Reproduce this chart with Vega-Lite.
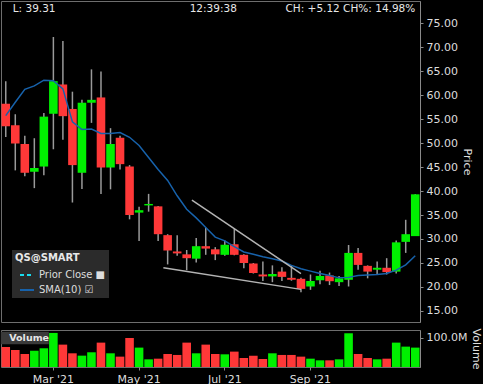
{
  "$schema": "https://vega.github.io/schema/vega-lite/v6.json",
  "background": "#000000",
  "padding": 0,
  "spacing": 4,
  "config": {
    "font": "DejaVu Sans",
    "view": {"stroke": "#6e6e6e", "strokeWidth": 1},
    "axis": {"grid": false, "domainColor": "#8a8a8a", "tickColor": "#8a8a8a", "labelColor": "#dddddd", "titleColor": "#dddddd", "labelFont": "DejaVu Sans", "titleFont": "DejaVu Sans", "labelFontSize": 11, "titleFontSize": 11, "titleFontWeight": "normal", "tickSize": 3, "labelPadding": 3, "labelOverlap": false},
    "axisY": {"labelOverlap": false},
    "axisRight": {"labelOverlap": false},
    "axisQuantitative": {"labelOverlap": false}
  },
  "datasets": {
    "weekly": [
      {"date": "2021-01-25", "open": 58.2, "high": 62.9, "low": 51.25, "close": 53.5, "vol": 69000000, "sma": 55.7, "dir": "down"},
      {"date": "2021-02-01", "open": 53.7, "high": 56.0, "low": 44.3, "close": 49.9, "vol": 58700000, "sma": 58.5, "dir": "down"},
      {"date": "2021-02-08", "open": 49.8, "high": 51.5, "low": 43.1, "close": 43.8, "vol": 44900000, "sma": 61.2, "dir": "down"},
      {"date": "2021-02-15", "open": 44.0, "high": 51.0, "low": 40.6, "close": 44.8, "vol": 56400000, "sma": 61.9, "dir": "up"},
      {"date": "2021-02-22", "open": 45.1, "high": 56.25, "low": 43.3, "close": 55.5, "vol": 64500000, "sma": 63.1, "dir": "up"},
      {"date": "2021-03-01", "open": 56.1, "high": 72.1, "low": 48.7, "close": 62.9, "vol": 117400000, "sma": 63.0, "dir": "up"},
      {"date": "2021-03-08", "open": 62.2, "high": 71.25, "low": 50.7, "close": 55.6, "vol": 77100000, "sma": 61.3, "dir": "down"},
      {"date": "2021-03-15", "open": 57.1, "high": 60.7, "low": 37.6, "close": 45.4, "vol": 47200000, "sma": 54.4, "dir": "down"},
      {"date": "2021-03-22", "open": 43.8, "high": 59.0, "low": 40.4, "close": 58.4, "vol": 39100000, "sma": 52.8, "dir": "up"},
      {"date": "2021-03-29", "open": 58.4, "high": 65.35, "low": 54.2, "close": 59.0, "vol": 50700000, "sma": 52.9, "dir": "up"},
      {"date": "2021-04-05", "open": 59.5, "high": 64.9, "low": 39.4, "close": 44.9, "vol": 84000000, "sma": 52.0, "dir": "down"},
      {"date": "2021-04-12", "open": 44.9, "high": 53.1, "low": 40.35, "close": 49.8, "vol": 47200000, "sma": 52.0, "dir": "up"},
      {"date": "2021-04-19", "open": 51.1, "high": 51.5, "low": 44.5, "close": 45.6, "vol": 35700000, "sma": 52.2, "dir": "down"},
      {"date": "2021-04-26", "open": 45.1, "high": 45.4, "low": 34.1, "close": 35.0, "vol": 100100000, "sma": 51.2, "dir": "down"},
      {"date": "2021-05-03", "open": 35.5, "high": 36.7, "low": 29.6, "close": 36.0, "vol": 66800000, "sma": 49.5, "dir": "up"},
      {"date": "2021-05-10", "open": 37.0, "high": 39.4, "low": 35.7, "close": 37.3, "vol": 26400000, "sma": 47.0, "dir": "up"},
      {"date": "2021-05-17", "open": 36.8, "high": 36.9, "low": 29.6, "close": 31.0, "vol": 28700000, "sma": 44.5, "dir": "down"},
      {"date": "2021-05-24", "open": 30.8, "high": 31.0, "low": 24.7, "close": 27.6, "vol": 44900000, "sma": 42.2, "dir": "down"},
      {"date": "2021-05-31", "open": 27.4, "high": 30.8, "low": 26.5, "close": 27.0, "vol": 41500000, "sma": 39.0, "dir": "down"},
      {"date": "2021-06-07", "open": 26.8, "high": 27.7, "low": 23.5, "close": 26.0, "vol": 84000000, "sma": 36.2, "dir": "down"},
      {"date": "2021-06-14", "open": 25.9, "high": 30.2, "low": 25.1, "close": 28.5, "vol": 47200000, "sma": 34.4, "dir": "up"},
      {"date": "2021-06-21", "open": 28.5, "high": 32.35, "low": 26.7, "close": 28.0, "vol": 77100000, "sma": 32.4, "dir": "down"},
      {"date": "2021-06-28", "open": 27.85, "high": 28.3, "low": 25.6, "close": 26.8, "vol": 44900000, "sma": 30.4, "dir": "down"},
      {"date": "2021-07-05", "open": 26.7, "high": 29.7, "low": 26.5, "close": 28.8, "vol": 43700000, "sma": 29.6, "dir": "up"},
      {"date": "2021-07-12", "open": 28.9, "high": 32.1, "low": 26.6, "close": 26.7, "vol": 53000000, "sma": 28.4, "dir": "down"},
      {"date": "2021-07-19", "open": 26.7, "high": 26.8, "low": 23.9, "close": 25.0, "vol": 31100000, "sma": 27.3, "dir": "down"},
      {"date": "2021-07-26", "open": 24.9, "high": 25.0, "low": 22.8, "close": 22.9, "vol": 39100000, "sma": 26.8, "dir": "down"},
      {"date": "2021-08-02", "open": 22.6, "high": 25.3, "low": 21.25, "close": 22.2, "vol": 27600000, "sma": 26.3, "dir": "down"},
      {"date": "2021-08-09", "open": 22.2, "high": 24.5, "low": 21.0, "close": 22.7, "vol": 47200000, "sma": 25.9, "dir": "up"},
      {"date": "2021-08-16", "open": 23.2, "high": 24.1, "low": 21.25, "close": 22.1, "vol": 41500000, "sma": 25.4, "dir": "down"},
      {"date": "2021-08-23", "open": 21.9, "high": 24.4, "low": 21.3, "close": 21.5, "vol": 41500000, "sma": 24.5, "dir": "down"},
      {"date": "2021-08-30", "open": 21.7, "high": 21.9, "low": 18.9, "close": 19.6, "vol": 35700000, "sma": 23.8, "dir": "down"},
      {"date": "2021-09-06", "open": 20.1, "high": 22.6, "low": 19.4, "close": 21.25, "vol": 28700000, "sma": 23.3, "dir": "up"},
      {"date": "2021-09-13", "open": 21.4, "high": 23.4, "low": 20.55, "close": 22.3, "vol": 23000000, "sma": 22.8, "dir": "up"},
      {"date": "2021-09-20", "open": 22.4, "high": 23.0, "low": 20.4, "close": 21.2, "vol": 23000000, "sma": 22.4, "dir": "down"},
      {"date": "2021-09-27", "open": 21.0, "high": 22.3, "low": 20.2, "close": 21.8, "vol": 26400000, "sma": 21.9, "dir": "up"},
      {"date": "2021-10-04", "open": 21.5, "high": 28.75, "low": 20.1, "close": 27.1, "vol": 116200000, "sma": 22.0, "dir": "up"},
      {"date": "2021-10-11", "open": 27.1, "high": 28.1, "low": 23.6, "close": 24.6, "vol": 44900000, "sma": 22.4, "dir": "down"},
      {"date": "2021-10-18", "open": 24.4, "high": 24.5, "low": 21.8, "close": 23.2, "vol": 31100000, "sma": 22.5, "dir": "down"},
      {"date": "2021-10-25", "open": 23.6, "high": 25.3, "low": 22.6, "close": 24.0, "vol": 26400000, "sma": 22.6, "dir": "up"},
      {"date": "2021-11-01", "open": 24.0, "high": 26.0, "low": 22.6, "close": 23.1, "vol": 28700000, "sma": 22.8, "dir": "down"},
      {"date": "2021-11-08", "open": 23.2, "high": 29.7, "low": 22.8, "close": 29.3, "vol": 84000000, "sma": 23.5, "dir": "up"},
      {"date": "2021-11-15", "open": 29.4, "high": 34.0, "low": 27.1, "close": 31.0, "vol": 70200000, "sma": 24.6, "dir": "up"},
      {"date": "2021-11-22", "open": 30.6, "high": 39.31, "low": 30.6, "close": 39.31, "vol": 66800000, "sma": 26.5, "dir": "up"}
    ]
  },
  "vconcat": [
    {
      "width": 419,
      "height": 321,
      "encoding": {
        "y": {"type": "quantitative", "scale": {"domain": [12.7, 79.6], "nice": false, "zero": false},
          "axis": {"orient": "right", "values": [15, 20, 25, 30, 35, 40, 45, 50, 55, 60, 65, 70, 75], "format": ".2f", "title": "Price", "titlePadding": 4, "labelOverlap": false, "labelBound": false}}
      },
      "layer": [
        {
          "data": {"name": "weekly"},
          "mark": {"type": "rule", "color": "#9a9a9a", "strokeWidth": 1.5},
          "encoding": {
            "x": {"field": "date", "type": "ordinal", "axis": null, "scale": {"paddingInner": 0.1, "paddingOuter": 0.05}},
            "y": {"field": "low", "type": "quantitative"},
            "y2": {"field": "high"}
          }
        },
        {
          "data": {"name": "weekly"},
          "mark": {"type": "bar"},
          "encoding": {
            "x": {"field": "date", "type": "ordinal"},
            "y": {"field": "open", "type": "quantitative"},
            "y2": {"field": "close"},
            "fill": {"field": "dir", "type": "nominal", "scale": {"domain": ["up", "down"], "range": ["#00f000", "#ff3838"]}, "legend": null}
          }
        },
        {
          "data": {"name": "weekly"},
          "mark": {"type": "line", "strokeWidth": 1.5},
          "encoding": {
            "x": {"field": "date", "type": "ordinal"},
            "y": {"field": "sma", "type": "quantitative"},
            "stroke": {"datum": "SMA(10)", "type": "nominal",
              "scale": {"domain": ["Prior Close", "SMA(10)"], "range": ["#18dcef", "#1762ab"]},
              "legend": {"title": "QS@SMART", "orient": "none", "legendX": 11, "legendY": 249, "direction": "vertical",
                "fillColor": "#2b2b2b", "padding": 3, "titleColor": "#e8e8e8", "titleFont": "DejaVu Sans", "titleFontSize": 10, "titleFontWeight": "bold", "titlePadding": 4,
                "labelColor": "#dddddd", "labelFont": "DejaVu Sans", "labelFontSize": 10, "labelOffset": 4, "symbolType": "stroke", "symbolSize": 196, "symbolStrokeWidth": 2, "symbolOffset": 4, "rowPadding": 2,
                "labelExpr": "datum.label + (datum.label === 'Prior Close' ? ' ■' : ' ☑')",
                "encode": {"symbols": {"update": {
                  "strokeDash": {"signal": "datum.value === 'Prior Close' ? [4, 3] : [1, 0]"},
                  "stroke": {"signal": "datum.value === 'Prior Close' ? '#18dcef' : '#2a90ee'"}
                }}}}
            }
          }
        },
        {
          "data": {"values": [
            {"start": "2021-06-14", "end": "2021-08-30", "p1": 38.1, "p2": 22.8},
            {"start": "2021-05-24", "end": "2021-08-30", "p1": 24.0, "p2": 19.5}
          ]},
          "mark": {"type": "rule", "color": "#b4b4b4", "strokeWidth": 1.5},
          "encoding": {
            "x": {"field": "start", "type": "ordinal", "bandPosition": 0},
            "x2": {"field": "end"},
            "y": {"field": "p1", "type": "quantitative"},
            "y2": {"field": "p2"}
          }
        },
        {
          "data": {"values": [{}]},
          "mark": {"type": "text", "align": "left", "dx": 7, "color": "#e8e8e8", "fontSize": 10.5},
          "encoding": {"x": {"datum": "2021-01-25", "type": "ordinal"}, "y": {"datum": 78.0, "type": "quantitative"}, "text": {"value": "L: 39.31"}}
        },
        {
          "data": {"values": [{}]},
          "mark": {"type": "text", "align": "center", "dx": -2, "color": "#e8e8e8", "fontSize": 10.5},
          "encoding": {"x": {"datum": "2021-06-28", "type": "ordinal"}, "y": {"datum": 78.0, "type": "quantitative"}, "text": {"value": "12:39:38"}}
        },
        {
          "data": {"values": [{}]},
          "mark": {"type": "text", "align": "right", "dx": 0, "color": "#e8e8e8", "fontSize": 10.5},
          "encoding": {"x": {"datum": "2021-11-22", "type": "ordinal"}, "y": {"datum": 78.0, "type": "quantitative"}, "text": {"value": "CH: +5.12 CH%: 14.98%"}}
        }
      ]
    },
    {
      "width": 419,
      "height": 37,
      "layer": [
        {
          "data": {"values": [{}]},
          "mark": {"type": "bar", "width": 48, "color": "#3a3a3a"},
          "encoding": {"x": {"datum": "2021-02-08", "type": "ordinal"}, "y": {"datum": 121700000, "type": "quantitative"}, "y2": {"datum": 78000000}}
        },
        {
          "data": {"name": "weekly"},
          "mark": {"type": "bar"},
          "encoding": {
            "x": {"field": "date", "type": "ordinal", "scale": {"paddingInner": 0.1, "paddingOuter": 0.05},
              "axis": {"orient": "bottom", "values": ["2021-03-01", "2021-05-03", "2021-07-05", "2021-09-06"], "labelExpr": "utcFormat(toDate(datum.value), \"%b '%y\")", "domain": false, "title": null, "labelPadding": 3, "labelAngle": 0, "labelAlign": "center", "labelBaseline": "top"}},
            "y": {"field": "vol", "type": "quantitative", "scale": {"domain": [0, 127500000], "nice": false},
              "axis": {"orient": "right", "values": [100000000], "format": ".4s", "title": "Volume", "titlePadding": 4}},
            "fill": {"field": "dir", "type": "nominal", "scale": {"domain": ["up", "down"], "range": ["#00f000", "#ff3838"]}, "legend": null}
          }
        },
        {
          "data": {"values": [{}]},
          "mark": {"type": "text", "align": "left", "dx": 3.5, "color": "#e6e6e6", "fontSize": 9.5, "fontWeight": "bold"},
          "encoding": {"x": {"datum": "2021-01-25", "type": "ordinal"}, "y": {"datum": 99000000, "type": "quantitative"}, "text": {"value": "Volume"}}
        }
      ]
    }
  ]
}
